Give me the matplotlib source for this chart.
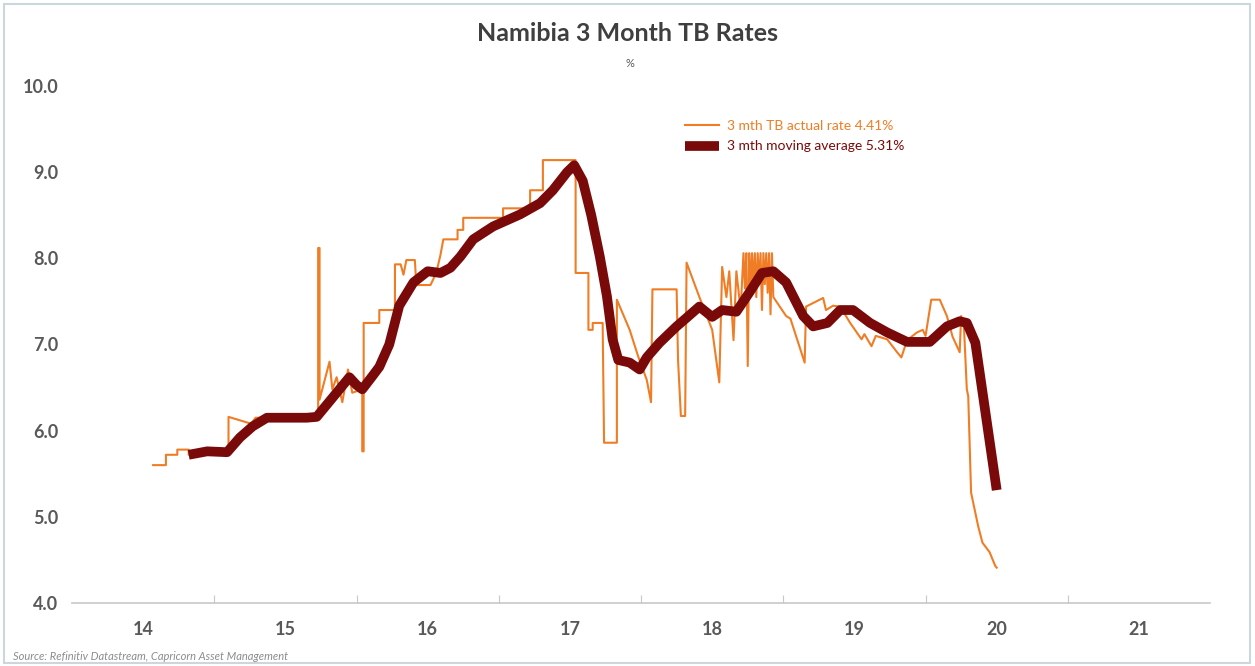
import numpy as np
import matplotlib
matplotlib.use('Agg')
import matplotlib.pyplot as plt
from matplotlib.patches import Rectangle
from matplotlib.ticker import FixedLocator, NullFormatter, FixedFormatter

plt.rcParams['font.family'] = ['Lato', 'DejaVu Sans']

# 3 mth TB actual rate (x = 2-digit year, fractional)
tb_x = [14.57, 14.66, 14.66, 14.74, 14.74, 14.82, 14.82, 15.10, 15.10, 15.26,
        15.29, 15.73, 15.73, 15.74, 15.74, 15.81, 15.83, 15.86, 15.90, 15.94,
        15.97, 16.04, 16.04, 16.05, 16.05, 16.16, 16.16, 16.27, 16.27, 16.31,
        16.33, 16.35, 16.41, 16.42, 16.52, 16.56, 16.59, 16.61, 16.71, 16.71,
        16.75, 16.75, 17.03, 17.03, 17.22, 17.22, 17.31, 17.31, 17.54, 17.54,
        17.63, 17.63, 17.66, 17.66, 17.73, 17.74, 17.83, 17.83, 17.92, 17.98,
        18.04, 18.07, 18.08, 18.25, 18.26, 18.28, 18.31, 18.32, 18.41, 18.50,
        18.55, 18.57, 18.60, 18.62, 18.65, 18.67, 18.70, 18.72, 18.73, 18.74,
        18.75, 18.76, 18.77, 18.78, 18.79, 18.80, 18.81, 18.82, 18.83, 18.84,
        18.85, 18.86, 18.87, 18.88, 18.89, 18.90, 18.91, 18.92, 18.93, 19.02,
        19.05, 19.15, 19.16, 19.28, 19.30, 19.35, 19.40, 19.47, 19.55, 19.57,
        19.62, 19.65, 19.73, 19.80, 19.83, 19.87, 19.94, 19.98, 20.00, 20.04,
        20.10, 20.15, 20.19, 20.24, 20.25, 20.27, 20.29, 20.30, 20.32, 20.37,
        20.40, 20.45, 20.49, 20.50]
tb_rate = [5.60, 5.60, 5.72, 5.72, 5.78, 5.78, 5.72, 5.72, 6.16, 6.08,
           6.15, 6.15, 8.12, 8.12, 6.36, 6.80, 6.48, 6.62, 6.33, 6.71,
           6.44, 6.48, 5.76, 5.76, 7.25, 7.25, 7.40, 7.40, 7.93, 7.93,
           7.81, 7.98, 7.98, 7.69, 7.69, 7.83, 8.04, 8.22, 8.22, 8.33,
           8.33, 8.47, 8.47, 8.58, 8.58, 8.79, 8.79, 9.14, 9.14, 7.83,
           7.83, 7.17, 7.17, 7.25, 7.25, 5.86, 5.86, 7.52, 7.17, 6.86,
           6.59, 6.33, 7.64, 7.64, 6.82, 6.17, 6.17, 7.95, 7.55, 7.17,
           6.56, 7.90, 7.55, 7.85, 7.05, 7.85, 7.40, 8.06, 7.65, 8.06,
           6.75, 8.06, 7.65, 8.06, 7.70, 8.06, 7.55, 8.06, 7.70, 8.06,
           7.40, 8.06, 7.70, 8.06, 7.60, 8.06, 7.35, 8.06, 7.55, 7.33,
           7.30, 6.79, 7.44, 7.54, 7.40, 7.45, 7.44, 7.25, 7.06, 7.12,
           6.98, 7.10, 7.06, 6.91, 6.85, 7.05, 7.14, 7.17, 7.10, 7.52,
           7.52, 7.33, 7.09, 6.91, 7.33, 7.20, 6.48, 6.40, 5.28, 4.89,
           4.70, 4.59, 4.43, 4.41]

# 3 mth moving average
ma_x = [14.82, 14.95, 15.09, 15.18, 15.27, 15.37, 15.65, 15.72, 15.79, 15.88,
        15.95, 16.00, 16.04, 16.11, 16.16, 16.23, 16.30, 16.40, 16.50, 16.59,
        16.66, 16.73, 16.82, 16.96, 17.15, 17.29, 17.38, 17.48, 17.53, 17.59,
        17.65, 17.71, 17.76, 17.80, 17.84, 17.92, 17.99, 18.04, 18.13, 18.25,
        18.32, 18.41, 18.50, 18.57, 18.67, 18.76, 18.85, 18.93, 19.02, 19.14,
        19.21, 19.31, 19.40, 19.49, 19.61, 19.73, 19.87, 20.03, 20.15, 20.24,
        20.29, 20.35, 20.50]
ma_rate = [5.72, 5.76, 5.75, 5.92, 6.05, 6.15, 6.15, 6.16, 6.30, 6.48,
           6.62, 6.53, 6.48, 6.63, 6.74, 7.00, 7.45, 7.72, 7.85, 7.83,
           7.89, 8.02, 8.22, 8.37, 8.51, 8.64, 8.79, 9.00, 9.08, 8.90,
           8.50, 8.02, 7.56, 7.06, 6.82, 6.79, 6.71, 6.85, 7.02, 7.21,
           7.31, 7.44, 7.32, 7.40, 7.38, 7.60, 7.83, 7.85, 7.72, 7.33,
           7.21, 7.25, 7.40, 7.40, 7.25, 7.14, 7.03, 7.03, 7.21, 7.27,
           7.25, 7.02, 5.31]

year_labels = ['14', '15', '16', '17', '18', '19', '20', '21']
y_ticks = [4.0, 5.0, 6.0, 7.0, 8.0, 9.0, 10.0]

orange = '#F07D25'
maroon = '#7A0A0A'
grey = '#595959'

fig = plt.figure(figsize=(12.55, 6.66), dpi=100)
ax = fig.add_axes([0.0574, 0.0946, 0.9068, 0.7763])

ax.plot(tb_x, tb_rate, color=orange, lw=1.5, label='3 mth TB actual rate 4.41%', zorder=2)
ax.plot(ma_x, ma_rate, color=maroon, lw=7, solid_capstyle='butt', solid_joinstyle='round',
        label='3 mth moving average 5.31%', zorder=3)

ax.set_xlim(14, 22)
ax.set_ylim(4, 10)

# year boundaries get tick marks, labels sit mid-year
ax.xaxis.set_major_locator(FixedLocator(np.arange(15, 22)))
ax.xaxis.set_major_formatter(NullFormatter())
ax.xaxis.set_minor_locator(FixedLocator(np.arange(14.5, 22, 1.0)))
ax.xaxis.set_minor_formatter(FixedFormatter(year_labels))
ax.tick_params(axis='x', which='major', direction='in', length=6, color='#C8C8C8')
ax.tick_params(axis='x', which='minor', length=0, pad=13, labelsize=13, labelcolor=grey)

ax.set_yticks(y_ticks)
ax.set_yticklabels(['%.1f' % v for v in y_ticks])
ax.tick_params(axis='y', length=0, pad=10, labelsize=13, labelcolor=grey)
for lab in ax.get_xticklabels(minor=True) + ax.get_yticklabels():
    lab.set_fontweight('bold')

for s in ['left', 'top', 'right']:
    ax.spines[s].set_visible(False)
ax.spines['bottom'].set_color('#C8C8C8')
ax.spines['bottom'].set_linewidth(1.2)

leg = ax.legend(loc='upper left', bbox_to_anchor=(0.539, 0.934), frameon=False,
                fontsize=10, handlelength=2.45, handletextpad=0.55, labelspacing=0.6,
                borderaxespad=0, borderpad=0)
for txt, col in zip(leg.get_texts(), [orange, maroon]):
    txt.set_color(col)

fig.text(0.5, 0.95, 'Namibia 3 Month TB Rates', ha='center', va='center',
         fontsize=18, fontweight='bold', color='#3F3F3F')
fig.text(0.502, 0.905, '%', ha='center', va='center', fontsize=8, color=grey)
fig.text(0.01, 0.015, 'Source: Refinitiv Datastream, Capricorn Asset Management',
         ha='left', va='center', fontsize=8, style='italic', color='#8C8C8C')

fig.add_artist(Rectangle((0.003, 0.005), 0.993, 0.989, transform=fig.transFigure,
                         fill=False, edgecolor='#CCD6DE', lw=1.5))

fig.savefig('out.png', dpi=100)
